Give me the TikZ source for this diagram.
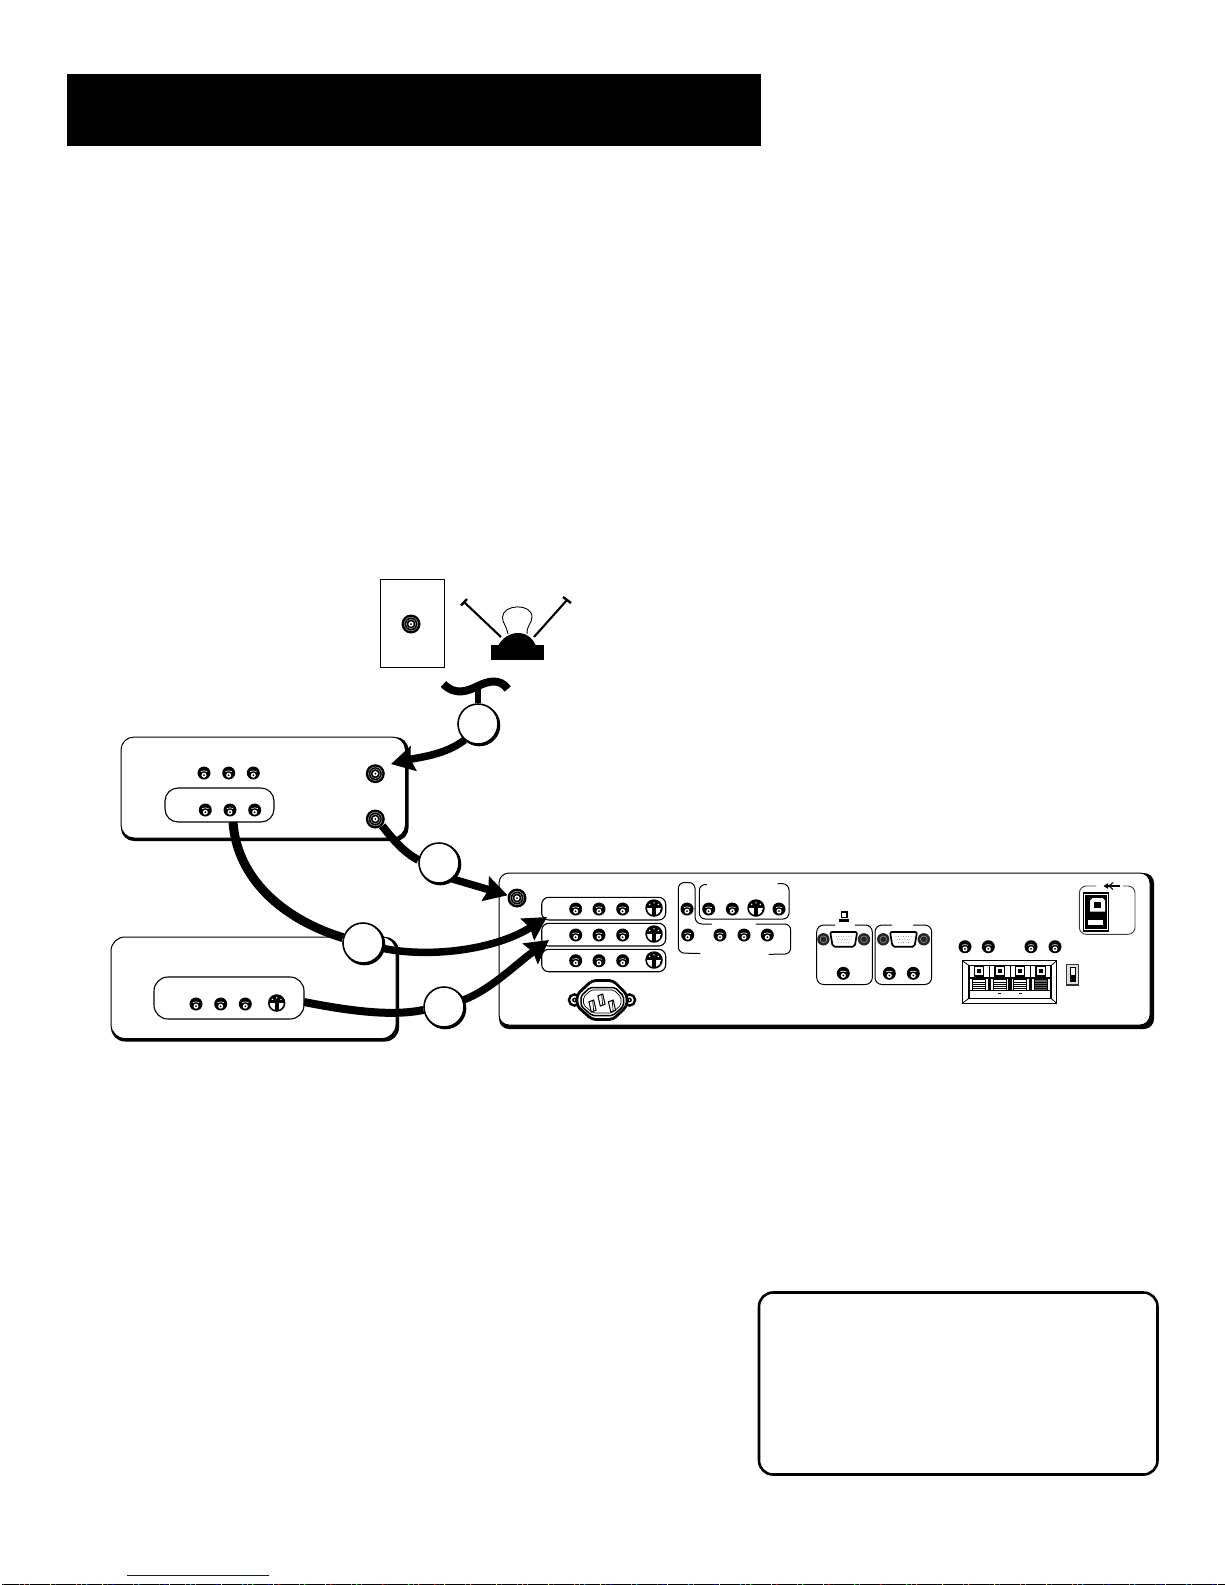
\documentclass[tikz,border=0pt]{standalone}
\usetikzlibrary{arrows.meta}
\tikzset{
  jackbody/.style={circle,fill=black,minimum size=13pt,inner sep=0pt},
  svbody/.style={circle,fill=black,minimum size=17.5pt,inner sep=0pt},
  fbody/.style={circle,fill=black,minimum size=19pt,inner sep=0pt},
  badge/.style={circle,draw=black,fill=white,line width=1.6pt,minimum size=40pt,inner sep=0pt},
  cable/.style={line width=8pt,line cap=butt},
  arrowcable/.style={line width=7.5pt,line cap=butt,-{Stealth[length=23pt,width=25pt,inset=3pt]}},
  thinline/.style={line width=1pt,line cap=round},
  pill/.style={line width=1.1pt,fill=white},
}
\newcommand\jk[3]{%
  \node[jackbody] (#1) at (#2,#3) {};
  \begin{scope}[shift={(#2,#3)}]
    \draw[white,line width=.6pt] (-3.2,-1.4) .. controls (-1.5,-2.4) and (1.5,-2.4) .. (3.2,-1.4);
    \fill[white] (0,2.2) circle (2.5);
    \fill[black] (0,2.2) circle (1);
  \end{scope}}
\newcommand\svd[3]{%
  \node[svbody] (#1) at (#2,#3) {};
  \begin{scope}[shift={(#2,#3)}]
    \begin{scope}
      \clip (0,0) circle (7);
      \fill[white] (-7,-.5) rectangle (-2.2,7);
      \fill[white] (2.2,-.5) rectangle (7,7);
    \end{scope}
    \fill[white] (-4.3,-3.6) circle (.8) (0,-5.2) circle (.8) (4.3,-3.6) circle (.8);
  \end{scope}}
\newcommand\fcn[3]{%
  \node[fbody] (#1) at (#2,#3) {};
  \begin{scope}[shift={(#2,#3)}]
    \draw[white!70!black,line width=.45pt] (0,0) circle (6.8) (0,0) circle (4.8);
    \fill[white] (0,0) circle (2.6);
    \fill[black] (0,0) circle (1);
  \end{scope}}
\newcommand\shbox[7]{% x1 y1 x2 y2 radius lw shadow
  \fill[black,rounded corners=#5] (#1,#2) rectangle ({#3+#7},{#4+#7});
  \draw[black,fill=white,line width=#6pt,rounded corners=#5] (#1,#2) rectangle (#3,#4);}
\newcommand\bdg[3]{%
  \fill[black] ({#2+1.3},{#3+1.3}) circle (21);
  \node[badge] (#1) at (#2,#3) {};}
\newcommand\vgap[2]{%
  \begin{scope}[shift={(#1,#2)}]
    \fill[black!85] (-20.3,0) circle (6.2);
    \fill[black!85] (20.3,0) circle (6.2);
    \draw[white!70!black,line width=.4pt] (-20.3,0) circle (3.4) (20.3,0) circle (3.4);
    \draw[black,fill=white,line width=1.7pt,rounded corners=2pt] (-13.5,-7.4) -- (13.5,-7.4) -- (11,7.4) -- (-11,7.4) -- cycle;
    \foreach \c in {-7.5,-5,...,7.6} {\fill[black!55] (\c,-3) circle (.45);}
    \foreach \c in {-6.3,-3.8,...,6.4} {\fill[black!55] (\c,0) circle (.45);}
    \foreach \c in {-5,-2.5,...,5.1} {\fill[black!55] (\c,3) circle (.45);}
  \end{scope}}
\newcommand\pinp[2]{%
  \draw[black,fill=white,line width=1pt] ({#1-3.6},{#2-4.2}) -- ({#1+1.2},{#2-6}) -- ({#1+3.6},{#2+4.2}) -- ({#1-1.2},{#2+6}) -- cycle;
  \draw[black,line width=.7pt] ({#1+.2},{#2-5}) -- ({#1+1.2},{#2+5});}
\newcommand\term[3]{% x of cell left, x of cell right, stripe colour
  \begin{scope}[shift={({(#1+#2)/2},0)}]
    \draw[black,fill=white,line width=1.2pt] (-4.6,966.8) rectangle (4.6,976);
    \fill[black] (-2,969.4) rectangle (2,973.4);
    \draw[black,fill=#3,line width=.8pt] (-6.6,979.6) rectangle (6.6,990);
    \foreach \yy in {982,984.2,986.4,988.6}{\draw[black,line width=.8pt] (-6.6,\yy) -- (6.6,\yy);}
  \end{scope}}
\begin{document}
\begin{tikzpicture}[x=1pt,y=-1pt]
\useasboundingbox (0,0) rectangle (1225,1585);
\fill[white] (0,0) rectangle (1225,1585);
% header
\fill[black] (67,74) rectangle (761,146);
% note box
\draw[black,line width=2.6pt,rounded corners=14pt] (759,1292.5) rectangle (1157.5,1474.5);
% footer
\draw[blue!90!black,line width=1pt] (127,1575.5) -- (269,1575.5);
\fill[black] (2,1584) rectangle (1225,1585);
\foreach \i [evaluate=\i as \xx using {3+mod(\i*83,1219)}, evaluate=\i as \cc using {int(mod(\i,6))}] in {0,...,110}{
  \ifcase\cc \def\cn{red}\or\def\cn{cyan}\or\def\cn{yellow}\or\def\cn{green}\or\def\cn{blue}\else\def\cn{orange}\fi
  \fill[\cn] (\xx,1584) rectangle ({\xx+1},1585);
}
% wall plate
\draw[black,line width=1.1pt] (380.5,579.5) rectangle (444.5,667.5);
\fcn{wall}{411}{624}
% antenna
\draw[black,line width=2.1pt] (501,637) -- (464,602);
\draw[black,line width=2.4pt] (461,605.5) -- (467,599);
\draw[black,line width=2.1pt] (534,637) -- (567,600);
\draw[black,line width=2.4pt] (563,597) -- (571,603);
\draw[black,line width=.9pt] (508,634) .. controls (507,627) and (502,622) .. (502.5,617) .. controls (503,604) and (532,603) .. (532,617) .. controls (532,623) and (526,627) .. (527,634);
\fill[black] (498,646) .. controls (502,638) and (510,633) .. (518,633) .. controls (526,633) and (533,638) .. (536,646) -- cycle;
\fill[black] (491,645) rectangle (544,660);
% boxes
\shbox{111}{937}{396}{1038.5}{14}{1}{3}
\draw[black,line width=1.1pt,fill=white,rounded corners=14pt] (154,977) rectangle (304,1019);
\shbox{121}{737}{405.5}{838}{13}{1}{3}
\draw[black,line width=1.1pt,fill=white,rounded corners=13pt] (165,788) rectangle (274,822);
\shbox{499}{873}{1150}{1025}{10}{1}{4}
% jacks of box A
\jk{a1}{204}{773}\jk{a2}{228.7}{773}\jk{a3}{253.3}{773}
\jk{a4}{205.3}{810}\jk{a5}{230}{810}\jk{a6}{254.7}{810}
\fcn{ain}{375.3}{773.7}\fcn{aout}{375.3}{819}
% jacks of box B
\jk{b1}{196}{1004}\jk{b2}{220.7}{1004}\jk{b3}{245.3}{1004}\svd{bs}{276.7}{1003}
% main panel left
\fcn{pin}{517}{898}
\draw[pill,rounded corners=7pt] (541.7,897.3) rectangle (665.7,920);
\draw[pill,rounded corners=7pt] (541.7,923.3) rectangle (665.7,946);
\draw[pill,rounded corners=7pt] (541.7,949.3) rectangle (665.7,971.7);
\jk{p1}{575.7}{909}\jk{p2}{599}{909}\jk{p3}{622.7}{909}\svd{ps1}{654}{908}
\jk{p4}{575.7}{935}\jk{p5}{599}{935}\jk{p6}{622.7}{935}\svd{ps2}{654}{934}
\jk{p7}{575.7}{960.7}\jk{p8}{599}{960.7}\jk{p9}{622.7}{960.7}\svd{ps3}{654}{960}
% brackets
\draw[thinline,rounded corners=6pt] (695,908) -- (695,882.5) -- (678.3,882.5) -- (678.3,953) -- (700,953.5);
\draw[thinline,rounded corners=7pt] (695,908) -- (695,924) -- (711.5,924);
\draw[thinline,rounded corners=6pt] (706.5,884.5) -- (699.3,884.5) -- (699.3,919) -- (789,919) -- (789,884) -- (778,883.5);
\draw[thinline,rounded corners=6pt] (756,924) -- (790.7,924) -- (790.7,954) -- (769,954.3);
\jk{q1}{687}{909}\jk{q2}{708.7}{909}\jk{q3}{732.3}{909}\svd{qs}{756}{908}\jk{q4}{779}{909}
\jk{q5}{687.7}{935}\jk{q6}{720}{935}\jk{q7}{744}{935}\jk{q8}{767.3}{935}
% power inlet
\draw[black,line width=2.4pt,fill=white] (574.5,1000) circle (5.6) (629.5,1000) circle (5.6);
\fill[black] (574.5,1000) circle (2.4) (629.5,1000) circle (2.4);
\fill[white] (574.5,1000) circle (.8) (629.5,1000) circle (.8);
\draw[black,line width=2.8pt,fill=white,rounded corners=4pt] (577,994.5) -- (592,980.5) -- (613,980.5) -- (627,994.5) -- (627,1006) -- (613,1019.5) -- (592,1019.5) -- (577,1006) -- cycle;
\draw[black,line width=1.5pt,rounded corners=2pt] (581,996) -- (590,987.5) -- (615,987.5) -- (623.5,996) -- (623.5,1006) -- (613,1015.5) -- (592,1015.5) -- (581,1006) -- cycle;
\draw[black,line width=.7pt,rounded corners=2pt] (583.5,997) -- (591,990) -- (614,990) -- (621,997) -- (621,1005) -- (612,1013) -- (593,1013) -- (583.5,1005) -- cycle;
\pinp{592.5}{1006}\pinp{601.5}{1000}\pinp{612}{1006}
% VGA groups
\draw[thinline,rounded corners=7pt] (835,925) -- (816.7,925) -- (816.7,984.5) -- (872.3,984.5) -- (872.3,925) -- (855,925);
\draw[thinline,rounded corners=7pt] (891.7,925) -- (875,925) -- (875,984.5) -- (931.7,984.5) -- (931.7,925) -- (913.3,925);
\vgap{843.7}{939.3}\vgap{903.5}{939.3}
\jk{v1}{843.3}{973.3}\jk{v2}{889.3}{973.3}\jk{v3}{913.3}{973.3}
% laptop icon
\draw[black,line width=1.9pt] (841.5,912) rectangle (846.8,917.5);
\fill[black] (839,919) rectangle (848.5,921.8);
% speaker jacks
\jk{s1}{965}{946.7}\jk{s2}{988.3}{946.7}\jk{s3}{1031}{946.7}\jk{s4}{1055}{946.7}
% speaker terminal
\draw[black,line width=1.3pt,fill=white] (962.3,960.7) rectangle (1056.7,1003.3);
\draw[black,line width=.8pt] (962.3,960.7) -- (969,965.5) (1056.7,960.7) -- (1051,965.5) (962.3,1003.3) -- (969,998.3) (1056.7,1003.3) -- (1051,998.3);
\draw[black,line width=1.3pt] (969,965.5) rectangle (1051,998.3);
\draw[black,line width=1.2pt] (969,978) -- (1051,978) (969,990.5) -- (1051,990.5);
\foreach \c in {989.3,1010,1030.3}{\draw[black,line width=1pt] (\c,965.5) -- (\c,978);\draw[black,line width=3.4pt] (\c,978) -- (\c,990.5);}
\term{969}{989.3}{white}\term{989.3}{1010}{white}\term{1010}{1030.3}{white}\term{1030.3}{1051}{black!60}
\draw[black,line width=.8pt] (997.8,993.3) -- (1000.8,993.3) (1018.5,993.3) -- (1021.5,993.3);
% switch
\draw[black!80,line width=1.2pt,fill=black!12] (1066.5,964.5) rectangle (1078.3,985);
\draw[black,line width=1pt,fill=white] (1070,967.7) rectangle (1075,981.7);
\fill[black] (1070,975) rectangle (1075,981.7);
% USB
\draw[black!75,line width=.9pt,rounded corners=7pt] (1096,886) -- (1079.3,886) -- (1079.3,934.3) -- (1135,934.3) -- (1135,886) -- (1123,886);
\draw[black,line width=1.1pt] (1107,886) -- (1120,886);
\fill[black] (1103.5,886) -- (1108,883.2) -- (1108,888.8) -- cycle;
\draw[black,line width=1pt] (1109,886) -- (1113,882.5) (1109,886) -- (1113,889.5);
\fill[black] (1082.7,892.3) rectangle (1109.3,931.7);
\draw[white,line width=.5pt] (1084.7,894.3) rectangle (1107.3,929.7);
\fill[white] (1092.5,898) -- (1102.5,898) -- (1105,900.5) -- (1105,911.7) -- (1090,911.7) -- (1090,900.5) -- cycle;
\fill[black] (1094,901.7) rectangle (1100.7,908.3);
\fill[white] (1088.3,920) rectangle (1103.3,925);
% badges
\bdg{n1}{478}{724}\bdg{n2}{439}{863}\bdg{n3}{363}{943}\bdg{n4}{444}{1007}
% free ends
\coordinate (sl) at (443.5,684);
\coordinate (sm) at (478,686);
\coordinate (sr) at (507.7,689);
\coordinate (ta) at (391,764);
\coordinate (cs3) at (233,822);
\coordinate (t2) at (547,917);
\coordinate (cs4) at (304,1002);
\coordinate (t3) at (549,940);
% cables
\draw[line width=8pt] (sl) .. controls (455,696) and (468,691) .. (sm) .. controls (488,681) and (500,678) .. (sr);
\draw[line width=6pt] (sm) -- (n1);
\draw[arrowcable] (n1.-130) .. controls (445,755) and (420,757) .. (ta);
\draw[cable] (aout.-45) .. controls (392,838) and (402,851) .. (n2.172);
\draw[arrowcable] (n2.-50) -- (pin);
\draw[cable,line width=9pt] (cs3) .. controls (237,880) and (285,920) .. (n3.165);
\draw[arrowcable] (n3.-15) .. controls (430,958) and (495,950) .. (t2);
\draw[cable] (cs4) .. controls (345,1010) and (390,1017) .. (n4.188);
\draw[arrowcable] (n4.20) .. controls (490,990) and (515,965) .. (t3);
\end{tikzpicture}
\end{document}
